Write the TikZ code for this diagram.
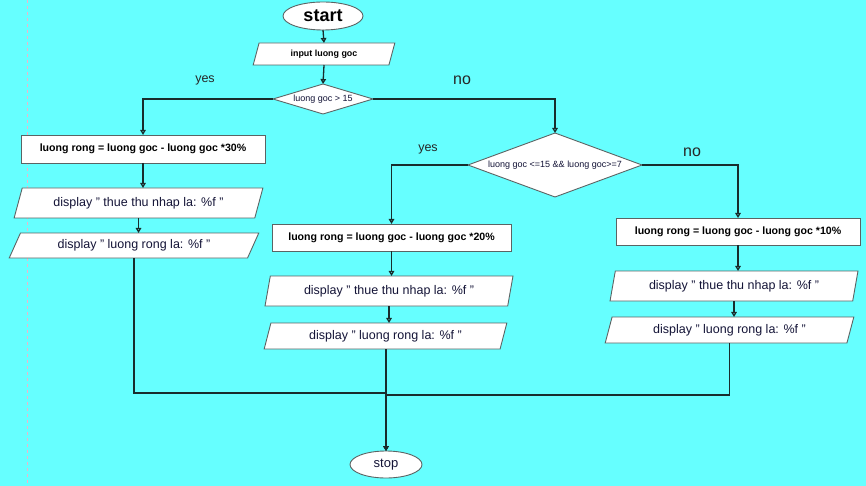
\documentclass[tikz,border=0pt]{standalone}
\usepackage{fontspec}
\setmainfont{Liberation Sans}
\usetikzlibrary{shapes.geometric,arrows.meta}
\definecolor{bgc}{RGB}{102,255,255}
\definecolor{linec}{RGB}{25,45,45}
\definecolor{edgec}{RGB}{90,100,100}
\definecolor{dashc}{RGB}{240,180,200}
\definecolor{txtc}{RGB}{20,20,55}
\tikzset{
  every node/.style={inner sep=0pt,outer sep=0pt},
  shp/.style={draw=edgec,fill=white,line width=0.9pt},
  procbox/.style={shp,rectangle,font=\fontsize{10.6}{12}\selectfont\bfseries},
  iobox/.style={shp,trapezium,trapezium left angle=#1,trapezium right angle=180-#1,trapezium stretches=true,text=txtc,font=\fontsize{12.5}{14}\selectfont},
  decbox/.style={shp,diamond,font=\fontsize{9}{10}\selectfont},
  termbox/.style={shp,ellipse},
  conn/.style={draw=linec,line width=1.3pt},
  arr/.style={conn,-{Triangle[open,length=5pt,width=5.5pt]}},
  lbl/.style={font=\fontsize{12.5}{14}\selectfont,text=black!85},
  lblbig/.style={font=\fontsize{16}{18}\selectfont,text=black!85}
}
\begin{document}
\begin{tikzpicture}[x=1pt,y=-1pt]
\fill[bgc] (0,0) rectangle (866,486);
\useasboundingbox (0,0) rectangle (866,486);
\draw[dashc,dashed,line width=0.6pt] (27,0) -- (27,486);

% nodes
\node[termbox,minimum width=80pt,minimum height=28pt,font=\fontsize{18}{20}\selectfont\bfseries] (start) at (323,16) {start};
\node[iobox=70,minimum width=142pt,minimum height=22pt,text=black,font=\fontsize{8.9}{10}\selectfont\bfseries] (input) at (324,54) {input luong goc};
\node[decbox,minimum width=100pt,minimum height=30pt,aspect=3.3] (d1) at (323,99) {};
\node[font=\fontsize{9}{10}\selectfont,text=txtc] (t1) at (d1) {luong goc > 15};

\node[procbox,minimum width=244pt,minimum height=28pt] (box1) at (143,149) {luong rong = luong goc - luong goc *30\%};
\node[iobox=63,minimum width=249pt,minimum height=30pt] (p1a) at (138.5,203) {display " thue thu nhap la: \%f "};
\node[iobox=57,minimum width=250pt,minimum height=25pt] (p1b) at (134,245.5) {display " luong rong la: \%f "};

\node[decbox,minimum width=174pt,minimum height=64pt,aspect=2.7] (d2) at (555,165) {};
\node[font=\fontsize{9}{10}\selectfont,text=txtc] (t2) at (d2) {luong goc <=15 \&\& luong goc>=7};

\node[procbox,minimum width=239pt,minimum height=27pt] (box2) at (391.5,237.5) {luong rong = luong goc - luong goc *20\%};
\node[iobox=72,minimum width=248pt,minimum height=30pt] (p2a) at (389,291) {display " thue thu nhap la: \%f "};
\node[iobox=69,minimum width=243pt,minimum height=26pt] (p2b) at (385.5,336) {display " luong rong la: \%f "};

\node[procbox,minimum width=244pt,minimum height=27pt] (box3) at (738,231.5) {luong rong = luong goc - luong goc *10\%};
\node[iobox=72,minimum width=248pt,minimum height=30pt] (p3a) at (734,286) {display " thue thu nhap la: \%f "};
\node[iobox=69,minimum width=249pt,minimum height=26pt] (p3b) at (729.5,330) {display " luong rong la: \%f "};

\node[termbox,minimum width=72pt,minimum height=27pt,text=txtc,font=\fontsize{13}{15}\selectfont] (stop) at (386,464.5) {stop};

% labels
\node[lbl] (ly1) at (205,80) {yes};
\node[lblbig] (ln1) at (462,80) {no};
\node[lbl] (ly2) at (428,149) {yes};
\node[lblbig] (ln2) at (692,152) {no};

% connectors
\draw[arr] (start.south) -- (input.north);
\draw[arr] (input.south) -- (d1.north);
\draw[arr] (d1.west) -| (box1.north);
\draw[arr] (box1.south) -- (box1.south |- p1a.north);
\draw[arr] (p1a.south) -- (p1a.south |- p1b.north);
\draw[arr] (d1.east) -| (d2.north);
\draw[arr] (d2.west) -| (box2.north);
\draw[arr] (d2.east) -| (box3.north);
\draw[arr] (box2.south) -- (box2.south |- p2a.north);
\draw[arr] (p2a.south) -- (p2a.south |- p2b.north);
\draw[arr] (box3.south) -- (box3.south |- p3a.north);
\draw[arr] (p3a.south) -- (p3a.south |- p3b.north);

\coordinate (jl) at (386,393);
\coordinate (jr) at (386,395);
\draw[arr] (p1b.south) |- (jl) -- (stop.north);
\draw[arr] (p2b.south -| stop.north) -- (stop.north);
\draw[arr] (p3b.south) |- (jr) -- (stop.north);
\end{tikzpicture}
\end{document}
